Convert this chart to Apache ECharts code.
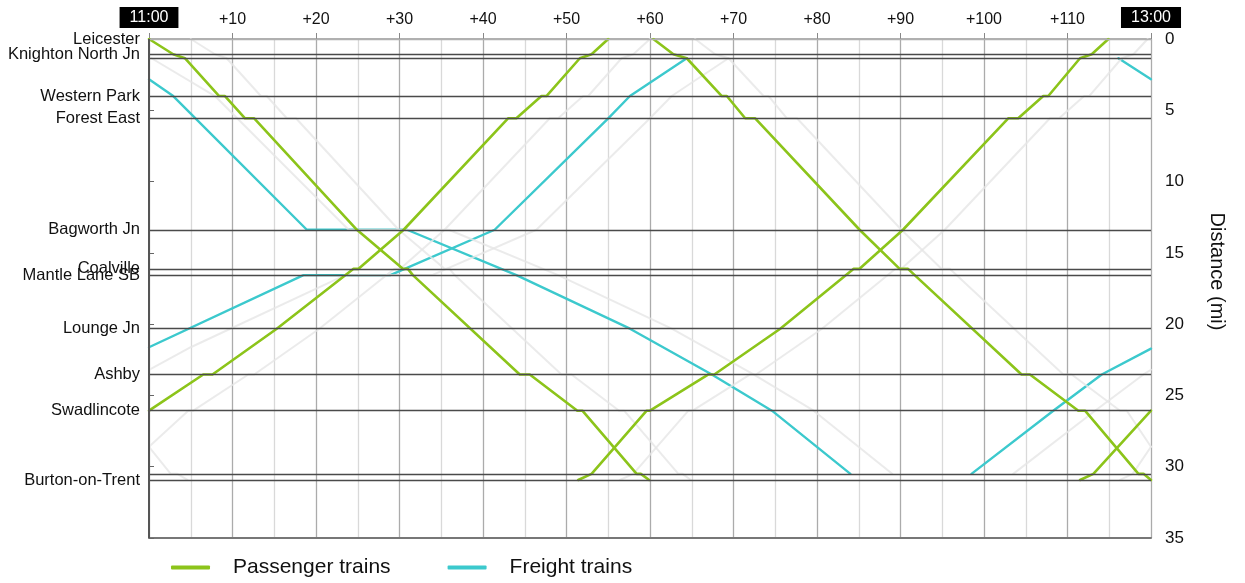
<!DOCTYPE html>
<html><head><meta charset="utf-8">
<script src="https://cdn.jsdelivr.net/npm/echarts@6/dist/echarts.min.js"></script>
<style>html,body{margin:0;padding:0;background:#fff}#c{width:1245px;height:583px}</style>
</head><body><div id="c"></div>
<script>
// ---- data ----
const timeTickLabels = ['11:00','+10','+20','+30','+40','+50','+60','+70','+80','+90','+100','+110','13:00'];
const distanceTicks = [0,5,10,15,20,25,30,35];
const stationNames = ['Leicester','Knighton North Jn','','Western Park','Forest East','Bagworth Jn','Coalville','Mantle Lane SB','Lounge Jn','Ashby','Swadlincote','','Burton-on-Trent'];
const stationMiles = [0,1.07,1.35,4.0,5.56,13.38,16.12,16.56,20.32,23.53,26.07,30.5,30.93];

// passenger trains [minutes after 11:00, miles]
const passenger1 = [[0,0],[2.9,1.07],[4.3,1.35],[8.4,4.0],[9.1,4.0],[11.5,5.56],[12.6,5.56],[24.9,13.38],[30.4,16.12],[31.0,16.12],[31.6,16.56],[44.4,23.53],[45.6,23.53],[51.3,26.07],[51.9,26.07],[58.4,30.5],[58.9,30.5],[59.9,30.93]];
const passenger2 = [[0,26.07],[6.5,23.53],[7.6,23.53],[15.3,20.32],[24.5,16.12],[25.1,16.12],[30.5,13.38],[43.0,5.56],[44.0,5.56],[47.0,4.0],[47.6,4.0],[51.6,1.35],[53.0,1.07],[55.0,0]];
const passenger3 = [[51.4,30.93],[53.0,30.5],[59.6,26.07],[60.0,26.07],[67.0,23.53],[67.7,23.53],[75.6,20.32],[84.4,16.12],[85.1,16.12],[90.3,13.38],[102.9,5.56],[104.1,5.56],[107.1,4.0],[107.7,4.0],[111.5,1.35],[112.9,1.07],[114.9,0]];
const passenger4 = [[60.4,0],[62.8,1.07],[64.4,1.35],[68.6,4.0],[69.2,4.0],[71.4,5.56],[72.6,5.56],[85.1,13.38],[89.9,16.12],[90.9,16.12],[91.7,16.56],[104.5,23.53],[105.5,23.53],[111.3,26.07],[112.1,26.07],[118.5,30.5],[119.1,30.5],[120,30.93]];
const passenger5 = [[111.5,30.93],[113.1,30.5],[120,26.07]];

// freight trains
const freight1 = [[0,2.82],[2.9,4.0],[18.9,13.38],[30.9,13.38],[44.0,16.56],[57.6,20.32],[67.4,23.53],[74.6,26.07],[84.0,30.5]];
const freight2 = [[0,21.62],[18.5,16.56],[28.9,16.56],[41.4,13.38],[55.0,5.56],[57.6,4.0],[64.4,1.35]];
const freight3 = [[98.5,30.5],[108.3,26.07],[114.1,23.53],[120,21.72]];
const freight4 = [[116.1,1.35],[120,2.82]];

// faint grey paths
const grey1 = [[0.3,1.35],[7.9,4.0],[23.9,13.38],[35.9,13.38],[49.0,16.56],[62.6,20.32],[72.4,23.53],[79.6,26.07],[89.0,30.5]];
const grey2 = [[0,23.2],[5,21.62],[23.5,16.56],[33.9,16.56],[46.4,13.38],[60.0,5.56],[62.6,4.0],[69.4,1.35]];
const grey3 = [[103.5,30.5],[113.3,26.07],[119.1,23.53],[120,23.2]];
const grey4 = [[5,0],[7.9,1.07],[9.3,1.35],[13.4,4.0],[14.1,4.0],[16.5,5.56],[17.6,5.56],[29.9,13.38],[35.4,16.12],[36.0,16.12],[36.6,16.56],[49.4,23.53],[50.6,23.53],[56.3,26.07],[56.9,26.07],[63.4,30.5],[63.9,30.5],[64.9,30.93]];
const grey5 = [[65.4,0],[67.8,1.07],[69.4,1.35],[73.6,4.0],[74.2,4.0],[76.4,5.56],[77.6,5.56],[90.1,13.38],[94.9,16.12],[95.9,16.12],[96.7,16.56],[109.5,23.53],[110.5,23.53],[116.3,26.07],[117.1,26.07],[120,28.6]];
const grey6 = [[0,28.6],[2.6,30.5],[3.4,30.5],[4.6,30.93]];
const grey7 = [[0,28.6],[4.7,26.07],[5.3,26.07],[11.9,23.53],[12.6,23.53],[20.4,20.32],[29.4,16.12],[30.1,16.12],[35.4,13.38],[48.0,5.56],[49.0,5.56],[52.0,4.0],[52.6,4.0],[56.6,1.35],[58.0,1.07],[60.0,0]];
const grey8 = [[56.4,30.93],[58.0,30.5],[64.6,26.07],[65.1,26.07],[72.0,23.53],[72.7,23.53],[80.6,20.32],[89.4,16.12],[90.1,16.12],[95.3,13.38],[107.9,5.56],[109.0,5.56],[112.0,4.0],[112.6,4.0],[116.5,1.35],[117.9,1.07],[119.6,0]];
const grey9 = [[116.3,30.93],[117.8,30.5],[120,28.6]];

// ---- chart ----
const FONT = '"Liberation Sans", Arial, sans-serif';
const GREEN = '#8cc41a', CYAN = '#3cc9cd', GREY = 'rgba(230,230,230,0.8)';
const chart = echarts.init(document.getElementById('c'), null, {renderer:'canvas'});

function path(name, data, color, width, z) {
  return {name, type:'line', data, xAxisIndex:0, yAxisIndex:0, symbol:'none', z,
    lineStyle:{color, width, cap:'round', join:'round'}, itemStyle:{color}, silent:true, clip:true};
}

const series = [];
series.push({
  name:'stations', type:'line', data:[], xAxisIndex:0, yAxisIndex:0, z:1, silent:true,
  markLine:{
    symbol:['none','none'], silent:true, animation:false,
    label:{show:true, position:'start', distance:9, formatter:p=>p.name, fontFamily:FONT, fontSize:16.5, color:'#111'},
    emphasis:{disabled:true},
    data: stationMiles.map((d,i)=>({name:stationNames[i], yAxis:d,
      lineStyle:{color: i===0 ? '#b0b0b0' : '#4a4a4a', width:1.3, type:'solid'}}))
      .concat([{name:'', xAxis:0, label:{show:false}, lineStyle:{color:'#555', width:2, type:'solid'}}])
  }
});
[freight1,freight2,freight3,freight4].forEach(d=>series.push(path('Freight trains', d, CYAN, 2.4, 2)));
[grey1,grey2,grey3,grey4,grey5,grey6,grey7,grey8,grey9].forEach(d=>series.push(path('grey', d, GREY, 2, 3)));
[passenger1,passenger2,passenger3,passenger4,passenger5].forEach(d=>series.push(path('Passenger trains', d, GREEN, 2.6, 4)));

chart.setOption({
  animation:false,
  backgroundColor:'#fff',
  textStyle:{fontFamily:FONT},
  grid:{left:149, right:94, top:39, bottom:45},
  legend:{
    data:[{name:'Passenger trains'},{name:'Freight trains'}],
    bottom:0, left:166, icon:'roundRect', itemWidth:39, itemHeight:4, itemGap:57,
    textStyle:{fontFamily:FONT, fontSize:21, color:'#111', padding:[0,0,0,18]},
    selectedMode:false
  },
  xAxis:[{
    type:'value', position:'top', min:0, max:120, interval:10,
    axisLine:{show:true, lineStyle:{color:'#b0b0b0', width:2}},
    axisTick:{show:true, length:6, lineStyle:{color:'#888'}},
    axisLabel:{
      margin:11, fontFamily:FONT, fontSize:16, color:'#111',
      formatter:v=>{ const s = timeTickLabels[Math.round(v/10)]; return (v===0||v===120) ? '{b|'+s+'}' : s; },
      rich:{b:{backgroundColor:'#000', color:'#fff', fontFamily:FONT, fontSize:16, padding:[3,10,2,10]}}
    },
    splitLine:{show:true, lineStyle:{color:'#ababab', width:1.3}},
    minorTick:{show:false, splitNumber:2},
    minorSplitLine:{show:true, lineStyle:{color:'#d9d9d9', width:1.3}}
  },{
    type:'value', position:'bottom', min:0, max:120,
    axisLine:{show:true, lineStyle:{color:'#777', width:2}},
    axisTick:{show:false}, axisLabel:{show:false}, splitLine:{show:false}
  }],
  yAxis:[{
    type:'value', position:'right', inverse:true, min:0, max:35, interval:5,
    axisLine:{show:true, lineStyle:{color:'#666', width:1.5}},
    axisTick:{show:true, length:5, lineStyle:{color:'#666'}},
    axisLabel:{margin:14, fontFamily:FONT, fontSize:17, color:'#111',
      formatter:v=> distanceTicks.includes(v) ? String(v) : ''},
    splitLine:{show:false},
    name:'Distance (mi)', nameLocation:'middle', nameRotate:-90, nameGap:56,
    nameTextStyle:{fontFamily:FONT, fontSize:20, color:'#111', padding:[0,34,0,0]}
  }],
  series
});
</script></body></html>
